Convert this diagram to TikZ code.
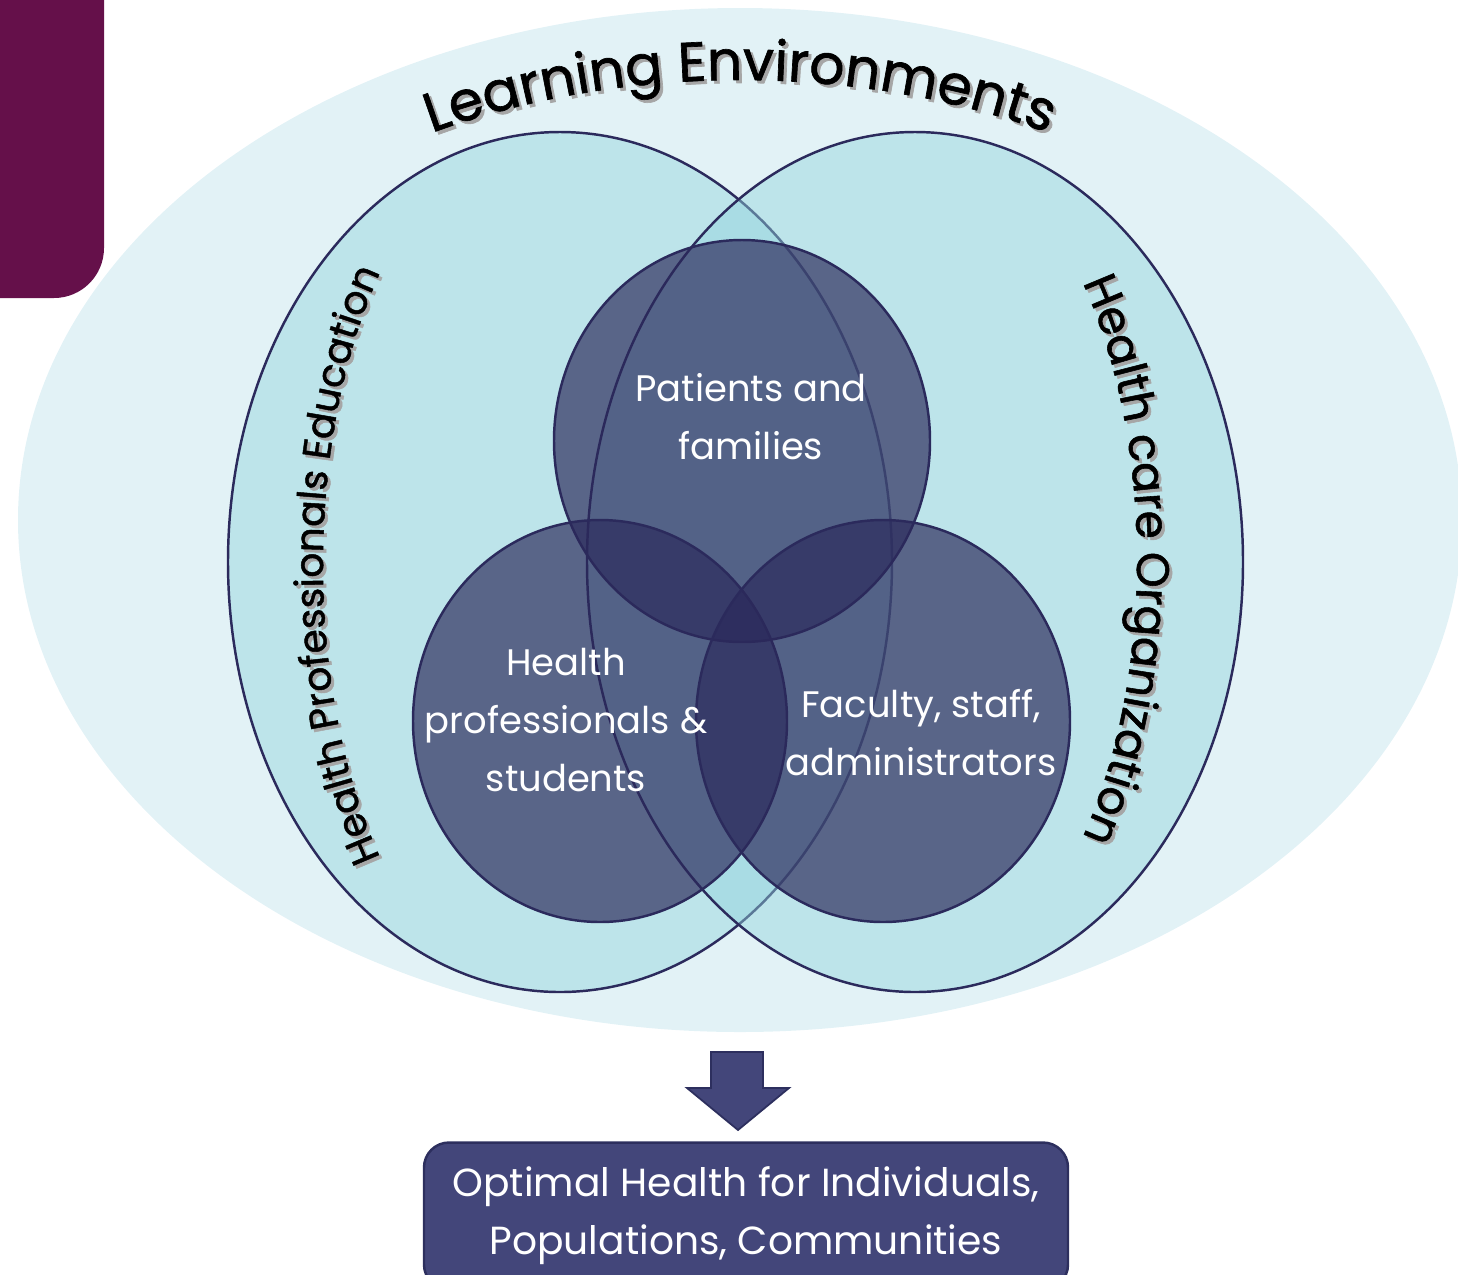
\documentclass[tikz,border=0pt]{standalone}
\usepackage{fontspec}
\setmainfont{Poppins}
\newfontfamily\titlefont{Poppins}[BoldFont={Poppins}, BoldFeatures={FakeBold=1.2}]
\usetikzlibrary{decorations.text}

\definecolor{tabpurple}{HTML}{65104A}
\definecolor{envfill}{HTML}{E2F2F6}
\definecolor{setfill}{RGB}{146,212,222}
\definecolor{rimline}{HTML}{2B2A5C}
\definecolor{groupfill}{RGB}{43,41,91}
\definecolor{outfill}{HTML}{43467A}
\definecolor{outrim}{HTML}{2D2F5E}

\begin{document}
\begin{tikzpicture}[x=0.2mm, y=-0.2mm,
    orgset/.style={
            fill=setfill,
            fill opacity=0.46,
            draw=rimline,
            line width=1.4pt
        },
        peopleset/.style={
            fill=groupfill,
            fill opacity=0.68,
            draw=rimline,
            line width=1.4pt
        },
        grouptext/.style={
            text=white,
            align=center,
            font=\fontsize{21}{33}\selectfont
        },
        outcome/.style={
            draw=outrim,
            fill=outfill,
            line width=1.4pt,
            rounded corners=5mm,
            minimum width=128.8mm,
            minimum height=29.4mm,
            text=white,
            align=center,
            font=\fontsize{22.3}{33}\selectfont
        },
        arc label/.style={
            decorate,
            decoration={text along path, text align=center, text color=#1}
        }
]

    \useasboundingbox (0,0) rectangle (1458,1274);
    \clip (0,0) rectangle (1458,1274);

    % corner tab and the surrounding environment
    \fill[tabpurple, rounded corners=10mm] (-100,-100) rectangle (104,298);
    \fill[envfill] (740,520) ellipse [x radius=722, y radius=512];

    % the two organisations
    \draw[orgset] (560,562) ellipse [x radius=332, y radius=430];
    \draw[orgset] (915,562) ellipse [x radius=328, y radius=430];

    % the three groups of people
    \draw[peopleset] (742,441) ellipse [x radius=188, y radius=201];
    \draw[peopleset] (600,721) ellipse [x radius=187, y radius=201];
    \draw[peopleset] (883,721) ellipse [x radius=187, y radius=201];

    \node[grouptext] (patients) at (751,417) {Patients and\\families};
    \node[grouptext] (students) at (566,720) {Health\\professionals \&\\students};
    \node[grouptext] (faculty) at (921,733) {Faculty, staff,\\administrators};

    % curved titles, shadow first
    \foreach \dx/\col in {3/black!35, 0/black} {
        \path[arc label=\col, shift={(\dx,\dx)},
              decoration={text={|\titlefont\bfseries\fontsize{31.5}{31.5}\selectfont|Learning Environments}}]
            (740,522) ++(238:650 and 442)
            arc [start angle=238, end angle=302, x radius=650, y radius=442];
        \path[arc label=\col, shift={(\dx,\dx)},
              decoration={text={|\titlefont\bfseries\fontsize{22.3}{22.3}\selectfont|Health Professionals Education}}]
            (560,565) ++(135:237 and 449)
            arc [start angle=135, end angle=225, x radius=237, y radius=449];
        \path[arc label=\col, shift={(\dx,\dx)},
              decoration={text={|\titlefont\bfseries\fontsize{26}{26}\selectfont|Health care Organization}}]
            (915,560) ++(-46:222 and 423)
            arc [start angle=-46, end angle=46, x radius=222, y radius=423];
    }

    % result
    \filldraw[fill=outfill, draw=outrim, line width=1pt]
        (711,1052) -- (763,1052) -- (763,1088) -- (789,1088)
        -- (738,1130) -- (687,1088) -- (711,1088) -- cycle;
    \node[outcome] (result) at (746,1216)
        {Optimal Health for Individuals,\\Populations, Communities};
\end{tikzpicture}
\end{document}
